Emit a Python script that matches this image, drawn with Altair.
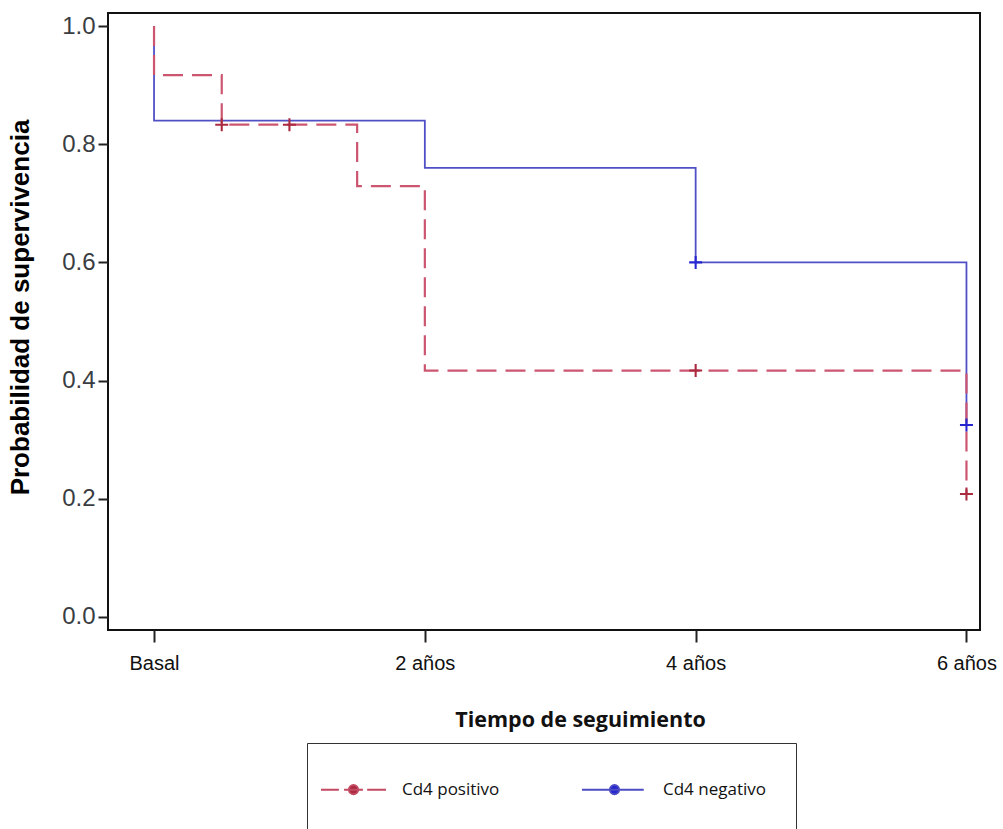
import altair as alt
import pandas as pd

# ---- data ----
groups = ["Cd4 positivo", "Cd4 negativo"]

pos_t = [0.0, 0.0, 0.5, 1.5, 2.0, 6.0]
pos_s = [1.0, 0.917, 0.833, 0.729, 0.417, 0.208]

neg_t = [0.0, 0.0, 2.0, 4.0, 6.0]
neg_s = [1.0, 0.84, 0.76, 0.60, 0.325]

pos_cens_t = [0.5, 1.0, 4.0, 6.0]
pos_cens_s = [0.833, 0.833, 0.417, 0.208]

neg_cens_t = [4.0, 6.0]
neg_cens_s = [0.60, 0.325]

x_tick_values = [0, 2, 4, 6]
x_tick_labels = ["Basal", "2 años", "4 años", "6 años"]
y_tick_values = [0.0, 0.2, 0.4, 0.6, 0.8, 1.0]

# ---- tables ----
pos_df = pd.DataFrame({"t": pos_t, "s": pos_s, "i": range(len(pos_t)), "group": groups[0]})
neg_df = pd.DataFrame({"t": neg_t, "s": neg_s, "i": range(len(neg_t)), "group": groups[1]})
cens_df = pd.DataFrame({
    "t": pos_cens_t + neg_cens_t,
    "s": pos_cens_s + neg_cens_s,
    "group": [groups[0]] * len(pos_cens_t) + [groups[1]] * len(neg_cens_t),
})
legend_df = pd.DataFrame({"t": [pos_t[0], neg_t[0]], "s": [pos_s[0], neg_s[0]], "group": groups})

label_expr = " : ".join(
    f"datum.value == {v} ? '{l}'" for v, l in zip(x_tick_values, x_tick_labels)
) + " : ''"

x_scale = alt.Scale(domain=[-0.34, 6.1], nice=False, zero=False)
y_scale = alt.Scale(domain=[-0.022, 1.022], nice=False, zero=False)

x_enc = alt.X("t:Q", scale=x_scale, axis=alt.Axis(
    values=x_tick_values, labelExpr=label_expr, title="Tiempo de seguimiento",
    domain=False, grid=False, ticks=True, tickSize=12, tickWidth=2, tickColor="#222",
    labelFont="Liberation Sans", labelFontSize=20, labelColor="#111", labelPadding=11,
    labelFlush=False, labelOverlap=False,
    titleFont="Open Sans", titleFontSize=21.5, titleFontWeight="bold", titleColor="#111",
    titleX=472, titleY=90, titleBaseline="middle", titleAnchor="start", titleAlign="center",
))
y_enc = alt.Y("s:Q", scale=y_scale, axis=alt.Axis(
    values=y_tick_values, format=".1f", title="Probabilidad de supervivencia",
    domain=False, grid=False, ticks=True, tickSize=10, tickWidth=2, tickColor="#222",
    labelFont="Liberation Sans", labelFontSize=24, labelColor="#3a3d42", labelPadding=3,
    labelFlush=False, labelOverlap=False,
    titleFont="Liberation Sans", titleFontSize=26, titleFontWeight="bold", titleColor="#000",
    titleX=-75, titleY=294, titleBaseline="bottom", titleAnchor="start", titleAlign="center",
))

dot = "M-0.14,0A0.14,0.14,0,1,1,0.14,0A0.14,0.14,0,1,1,-0.14,0Z"
shape_paths = [
    "M-1,0H-0.45M-0.29,0H0.29M0.42,0H1" + dot + "M0,2.5",
    "M-1,0H0.9" + dot + "M0,2.5M5.05,0",
]
leg = alt.Legend(
    orient="none", legendX=199, legendY=730, direction="horizontal", title=None,
    symbolSize=4225, symbolStrokeWidth=2, symbolOpacity=1,
    labelFont="Open Sans", labelFontSize=17, labelColor="#111", labelOffset=15,
    columnPadding=78, padding=13, strokeColor="#333", fillColor="white",
)

fill_scale = alt.Scale(domain=groups, range=["#aa2a40", "#2626d0"])
stroke_scale = alt.Scale(domain=groups, range=["#c24a62", "#4c4cc4"])
shape_scale = alt.Scale(domain=groups, range=shape_paths)

legend_layer = alt.Chart(legend_df).mark_point(filled=True, opacity=0).encode(
    x=x_enc, y=y_enc,
    fill=alt.Fill("group:N", scale=fill_scale, legend=leg),
    stroke=alt.Stroke("group:N", scale=stroke_scale, legend=leg),
    shape=alt.Shape("group:N", scale=shape_scale, legend=leg),
)

neg_line = alt.Chart(neg_df).mark_line(
    interpolate="step-after", color="#5050c6", strokeWidth=1.8
).encode(x=x_enc, y=y_enc, order=alt.Order("i:Q"))

pos_line = alt.Chart(pos_df).mark_line(
    interpolate="step-after", color="#cc5570", strokeWidth=2.2, strokeDash=[20, 9]
).encode(x=x_enc, y=y_enc, order=alt.Order("i:Q"))

plus_path = "M-1,-0.16H-0.16V-1H0.16V-0.16H1V0.16H0.16V1H-0.16V0.16H-1Z"
cens = alt.Chart(cens_df).mark_point(filled=True, shape=plus_path, size=169, opacity=1).encode(
    x=x_enc, y=y_enc,
    fill=alt.Fill("group:N", scale=fill_scale),
)

chart = alt.layer(legend_layer, neg_line, pos_line, cens).properties(
    width=872, height=617,
    background="white",
    autosize=alt.AutoSizeParams(type="none"),
    padding={"left": 108, "top": 13, "right": 23, "bottom": 199},
).configure_view(stroke="#111", strokeWidth=2)

chart.save("out.html", embed_options={"renderer": "svg", "actions": False})
